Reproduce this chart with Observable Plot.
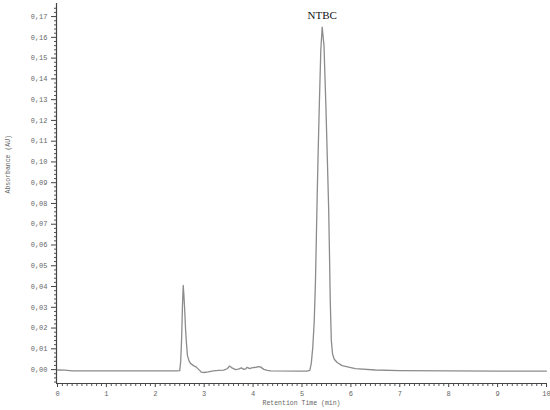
<!DOCTYPE html>
<html>
<head>
<meta charset="utf-8">
<script src="https://cdn.jsdelivr.net/npm/d3@7"></script>
<script src="https://cdn.jsdelivr.net/npm/@observablehq/plot@0.6"></script>
<style>
  html, body { margin: 0; padding: 0; background: #fff; }
  #chart svg { display: block; }
</style>
</head>
<body>
<div id="chart"></div>
<script>
// Retention time (min)
const times = [
  0.00, 0.15, 0.30, 1.00, 2.00, 2.45, 2.50, 2.52, 2.54, 2.555, 2.571, 2.585, 2.603, 2.62, 2.638,
  2.658, 2.69, 2.72, 2.79, 2.84, 2.89, 2.94, 3.00, 3.08, 3.19, 3.30, 3.40, 3.47, 3.52, 3.57,
  3.64, 3.70, 3.76, 3.81, 3.85, 3.88, 3.93, 3.97, 4.01, 4.06, 4.10, 4.15, 4.22, 4.29, 4.36,
  4.97, 5.10, 5.16, 5.19, 5.22, 5.25, 5.275, 5.295, 5.311, 5.33, 5.355, 5.385, 5.413, 5.45, 5.49,
  5.52, 5.545, 5.562, 5.578, 5.60, 5.625, 5.66, 5.72, 5.82, 6.09, 6.50, 7.00, 8.00, 9.00, 10.00
];
// Absorbance (AU)
const absorbance = [
  -0.0002, -0.0003, -0.0006, -0.0006, -0.0006, -0.0006, -0.0005, 0.004, 0.016, 0.030, 0.0405, 0.036, 0.028, 0.019, 0.0125,
  0.0067, 0.0042, 0.0030, 0.0018, 0.0012, 0.0000, -0.0012, -0.0014, -0.0011, -0.0006, -0.0004, -0.0003, 0.0004, 0.0017, 0.0008,
  0.0000, 0.0002, 0.0008, 0.0001, 0.0004, 0.0011, 0.0005, 0.0008, 0.0010, 0.0011, 0.0014, 0.0013, 0.0001, -0.0004, -0.0006,
  -0.0007, -0.0007, -0.0004, 0.0030, 0.0106, 0.0230, 0.0420, 0.0650, 0.0838, 0.1040, 0.1280, 0.1540, 0.1649, 0.1560, 0.1260,
  0.1000, 0.0780, 0.0560, 0.0330, 0.0140, 0.0075, 0.0050, 0.0034, 0.0019, 0.0005, -0.0002, -0.0005, -0.0006, -0.0007, -0.0007
];
// Peak annotation
const peakNames = ["NTBC"];
const peakTimes = [5.413];
const peakHeights = [0.1649];
// Axis ticks
const xMajorTicks = [0, 1, 2, 3, 4, 5, 6, 7, 8, 9, 10];
const xMinorTicks = d3.range(0, 100).map(i => i / 10).filter(v => !Number.isInteger(v));
const yMajorTicks = [0, 0.01, 0.02, 0.03, 0.04, 0.05, 0.06, 0.07, 0.08, 0.09, 0.10, 0.11, 0.12, 0.13, 0.14, 0.15, 0.16, 0.17];
const yMinorTicks = d3.range(-3, 88).map(i => i * 0.002).filter(v => Math.abs(v * 100 - Math.round(v * 100)) > 1e-6);
const xLabel = "Retention Time (min)";
const yLabel = "Absorbance (AU)";

const xDomain = [-0.02, 10];
const yDomain = [-0.0067, 0.1763];

const data = times.map((t, i) => ({t, a: absorbance[i]}));
const peaks = peakNames.map((n, i) => ({n, t: peakTimes[i], a: peakHeights[i]}));
const fmt = v => d3.format(".2f")(v).replace(".", ",").replace("-0,00", "0,00");

const axisFont = "Liberation Mono, DejaVu Sans Mono, monospace";

const plot = Plot.plot({
  width: 550,
  height: 410,
  marginLeft: 56,
  marginRight: 4,
  marginTop: 3,
  marginBottom: 27,
  style: {background: "#fff", fontFamily: axisFont},
  x: {domain: xDomain},
  y: {domain: yDomain},
  marks: [
    Plot.axisX({ticks: xMinorTicks, tickSize: 3, tickFormat: () => "", stroke: "#555", label: null}),
    Plot.axisX({ticks: xMajorTicks, tickSize: 4, tickPadding: 4, tickFormat: d => String(d), fontSize: 7, fill: "#666", stroke: "#444", label: null}),
    Plot.axisY({ticks: yMinorTicks, tickSize: 2, tickFormat: () => "", stroke: "#555", label: null}),
    Plot.axisY({ticks: yMajorTicks, tickSize: 5, tickPadding: 4, tickFormat: fmt, fontSize: 7, fill: "#666", stroke: "#444", label: null}),
    Plot.ruleX([xDomain[0]], {stroke: "#444", strokeWidth: 1.2}),
    Plot.ruleY([yDomain[0]], {stroke: "#444", strokeWidth: 1.2}),
    Plot.line(data, {x: "t", y: "a", stroke: "#8c8c8c", strokeWidth: 1.3, curve: "linear"}),
    Plot.text(peaks, {x: "t", y: "a", text: "n", dy: -12, fontSize: 11, fill: "#111", fontFamily: "Liberation Serif, DejaVu Serif, serif"}),
    Plot.text([xLabel], {frameAnchor: "bottom", dy: 21, fontSize: 6.5, fill: "#666"}),
    Plot.text([yLabel], {frameAnchor: "left", dx: -49, rotate: -90, fontSize: 6.5, fill: "#666"})
  ]
});
document.getElementById("chart").appendChild(plot);
</script>
</body>
</html>
